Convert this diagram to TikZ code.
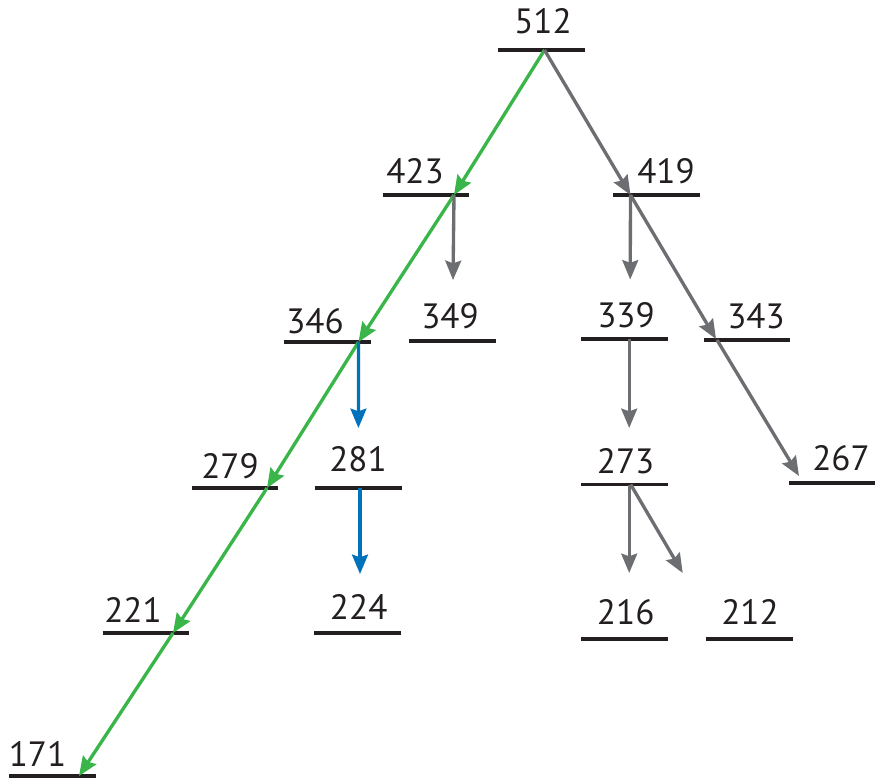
\documentclass[tikz,border=0pt]{standalone}
\usepackage{fontspec}
\setmainfont{PT Sans}
\usetikzlibrary{arrows.meta, calc}
\definecolor{levelblack}{RGB}{35,31,32}
\definecolor{decaygreen}{RGB}{57,181,74}
\definecolor{decaygray}{RGB}{109,110,113}
\definecolor{decayblue}{RGB}{0,114,188}

\begin{document}
\begin{tikzpicture}[
    x=0.02cm, y=-0.02cm,
    bar/.style={minimum width=1.72cm,minimum height=0pt,inner sep=0pt,
                append after command={(\tikzlastnode.west) edge[barline] (\tikzlastnode.east)}},
    barline/.style={draw=levelblack,line width=2.2pt},
    num/.style={anchor=base,inner sep=0pt,text=levelblack,font=\fontsize{20}{24}\selectfont},
    arr/.style={-{Stealth[length=11pt,width=9pt,inset=1.5pt]},line width=1.9pt},
    green/.style={arr,decaygreen},
    grey/.style={arr,decaygray},
    blue/.style={arr,decayblue}
]
  \useasboundingbox (0,0) rectangle (875,782);

  % Levels
  \node[bar] (l512) at (541.5,50) {};
  \node[num] (t512) at (543,33) {512};
  \node[bar] (l423) at (426,195) {};
  \node[num] (t423) at (415,183) {423};
  \node[bar] (l419) at (656.5,195) {};
  \node[num] (t419) at (666,183) {419};
  \node[bar] (l346) at (327.5,342) {};
  \node[num] (t346) at (315,333) {346};
  \node[bar] (l349) at (452.5,341) {};
  \node[num] (t349) at (450,328) {349};
  \node[bar] (l339) at (624.7,339) {};
  \node[num] (t339) at (626,327) {339};
  \node[bar] (l343) at (747,340) {};
  \node[num] (t343) at (756,328) {343};
  \node[bar] (l279) at (235,488) {};
  \node[num] (t279) at (230,478) {279};
  \node[bar] (l281) at (358.4,488) {};
  \node[num] (t281) at (358,471) {281};
  \node[bar] (l273) at (624.7,484.5) {};
  \node[num] (t273) at (625.6,473) {273};
  \node[bar] (l267) at (832.5,483) {};
  \node[num] (t267) at (841,470) {267};
  \node[bar] (l221) at (146,633) {};
  \node[num] (t221) at (133,622) {221};
  \node[bar] (l224) at (357.4,633) {};
  \node[num] (t224) at (358.7,619) {224};
  \node[bar] (l216) at (624.7,639) {};
  \node[num] (t216) at (625.7,624) {216};
  \node[bar] (l212) at (749.7,639) {};
  \node[num] (t212) at (750,624) {212};
  \node[bar] (l171) at (52.5,776) {};
  \node[num] (t171) at (37.5,766) {171};

  % Green cascade
  \draw[green] ($(l512)+(3,0)$) -- ($(l423)+(28,0)$);
  \draw[green] ($(l423)+(28,0)$) -- ($(l346)+(31,0)$);
  \draw[green] ($(l346)+(31,0)$) -- ($(l279)+(32,0)$);
  \draw[green] ($(l279)+(32,0)$) -- ($(l221)+(27,0)$);
  \draw[green] ($(l221)+(27,0)$) -- ($(l171)+(26.5,0)$);

  % Grey branches
  \draw[grey] ($(l512)+(3,0)$) -- ($(l419)+(-26,0)$);
  \draw[grey] ($(l423)+(28,0)$) -- ($(l349)+(0.5,-61)$);
  \draw[grey] ($(l419)+(-26,0)$) -- ($(l339)+(5.5,-59.5)$);
  \draw[grey] ($(l419)+(-26,0)$) -- ($(l343)+(-31,-1)$);
  \draw[grey] ($(l343)+(-30,0)$) -- ($(l267)+(-33.5,-7)$);
  \draw[grey] ($(l339)+(4.5,0)$) -- ($(l273)+(4.5,-56.5)$);
  \draw[grey] ($(l273)+(4.5,0)$) -- ($(l216)+(4.5,-66)$);
  \draw[grey] ($(l273)+(6,0)$) -- ($(l212)+(-67,-66)$);

  % Blue branch
  \draw[blue] ($(l346)+(31,0)$) -- ($(l281)+(0,-60)$);
  \draw[blue] ($(l281)+(1.6,0)$) -- ($(l224)+(2.6,-59)$);
\end{tikzpicture}
\end{document}
